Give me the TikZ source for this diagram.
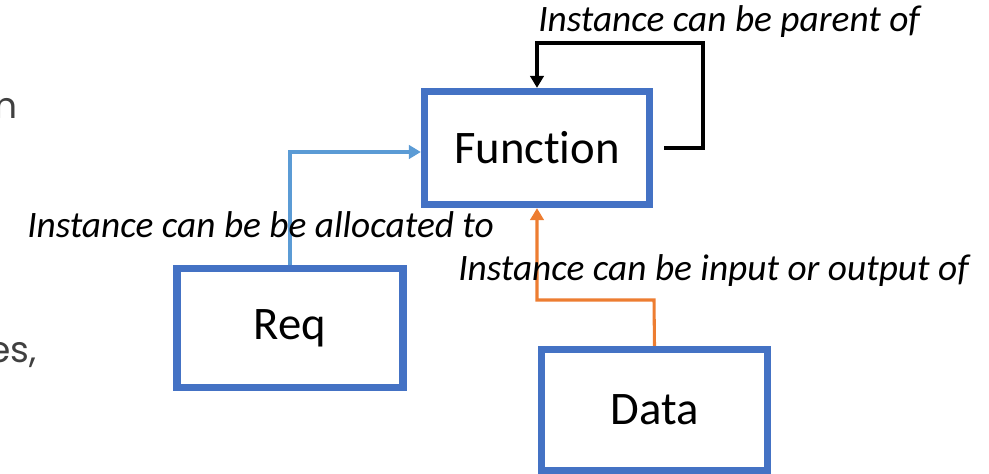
\documentclass[tikz,border=0pt]{standalone}
\usepackage{fontspec}
\setmainfont{Carlito}[Ligatures=NoCommon]
\newfontfamily\leftfont{Poppins}
\usetikzlibrary{arrows.meta}
\definecolor{boxblue}{HTML}{4472C4}
\definecolor{lightblue}{HTML}{5B9BD5}
\definecolor{orangec}{HTML}{ED7D31}
\definecolor{leftgray}{HTML}{404040}
\begin{document}
\begin{tikzpicture}[x=0.75pt,y=-0.75pt,
  entity/.style={draw=boxblue,line width=5.4pt,fill=white,inner sep=0pt,font=\fontsize{35}{40}\selectfont},
  lbl/.style={inner sep=0pt,anchor=base west,font=\fontsize{28}{32}\selectfont\itshape},
  frag/.style={inner sep=0pt,anchor=base east,text=leftgray,font=\leftfont\fontsize{27}{32}\selectfont},
  conn/.style={-{Triangle[width=10pt,length=9pt]}}]
\useasboundingbox (0,0) rectangle (989,474);
% left text fragments
\node[frag] (fa) at (18,119) {n};
\node[frag] (fb) at (37,362) {es,};
% boxes
\node[entity,minimum width=168.75pt,minimum height=84.75pt] (fn) at (537,148) {Function};
\node[entity,minimum width=169.5pt,minimum height=89.25pt] (req) at (290,328) {Req};
\node[entity,minimum width=169.5pt,minimum height=90.75pt] (data) at (654.5,410) {Data};
% connector points
\coordinate (ls) at (664,148);
\coordinate (lr) at (703,148);
\coordinate (lt) at (703,43);
\coordinate (bl) at (290,152);
\coordinate (oa) at (654,300);
% connectors
\draw[conn,black,line width=2.8pt] (ls) -- (lr) -- (lt) -| (fn.north);
\draw[conn,lightblue,line width=2.3pt] (req.north) -- (bl) -- (bl -| fn.west);
\draw[conn,orangec,line width=2.3pt] (data.north) -- (oa) -| (fn.south);
% labels
\node[lbl] (l1) at (538,32) {Instance can be parent of};
\node[lbl] (l2) at (27,238) {Instance can be be allocated to};
\node[lbl] (l3) at (458,280) {Instance can be input or output of};
\end{tikzpicture}
\end{document}
